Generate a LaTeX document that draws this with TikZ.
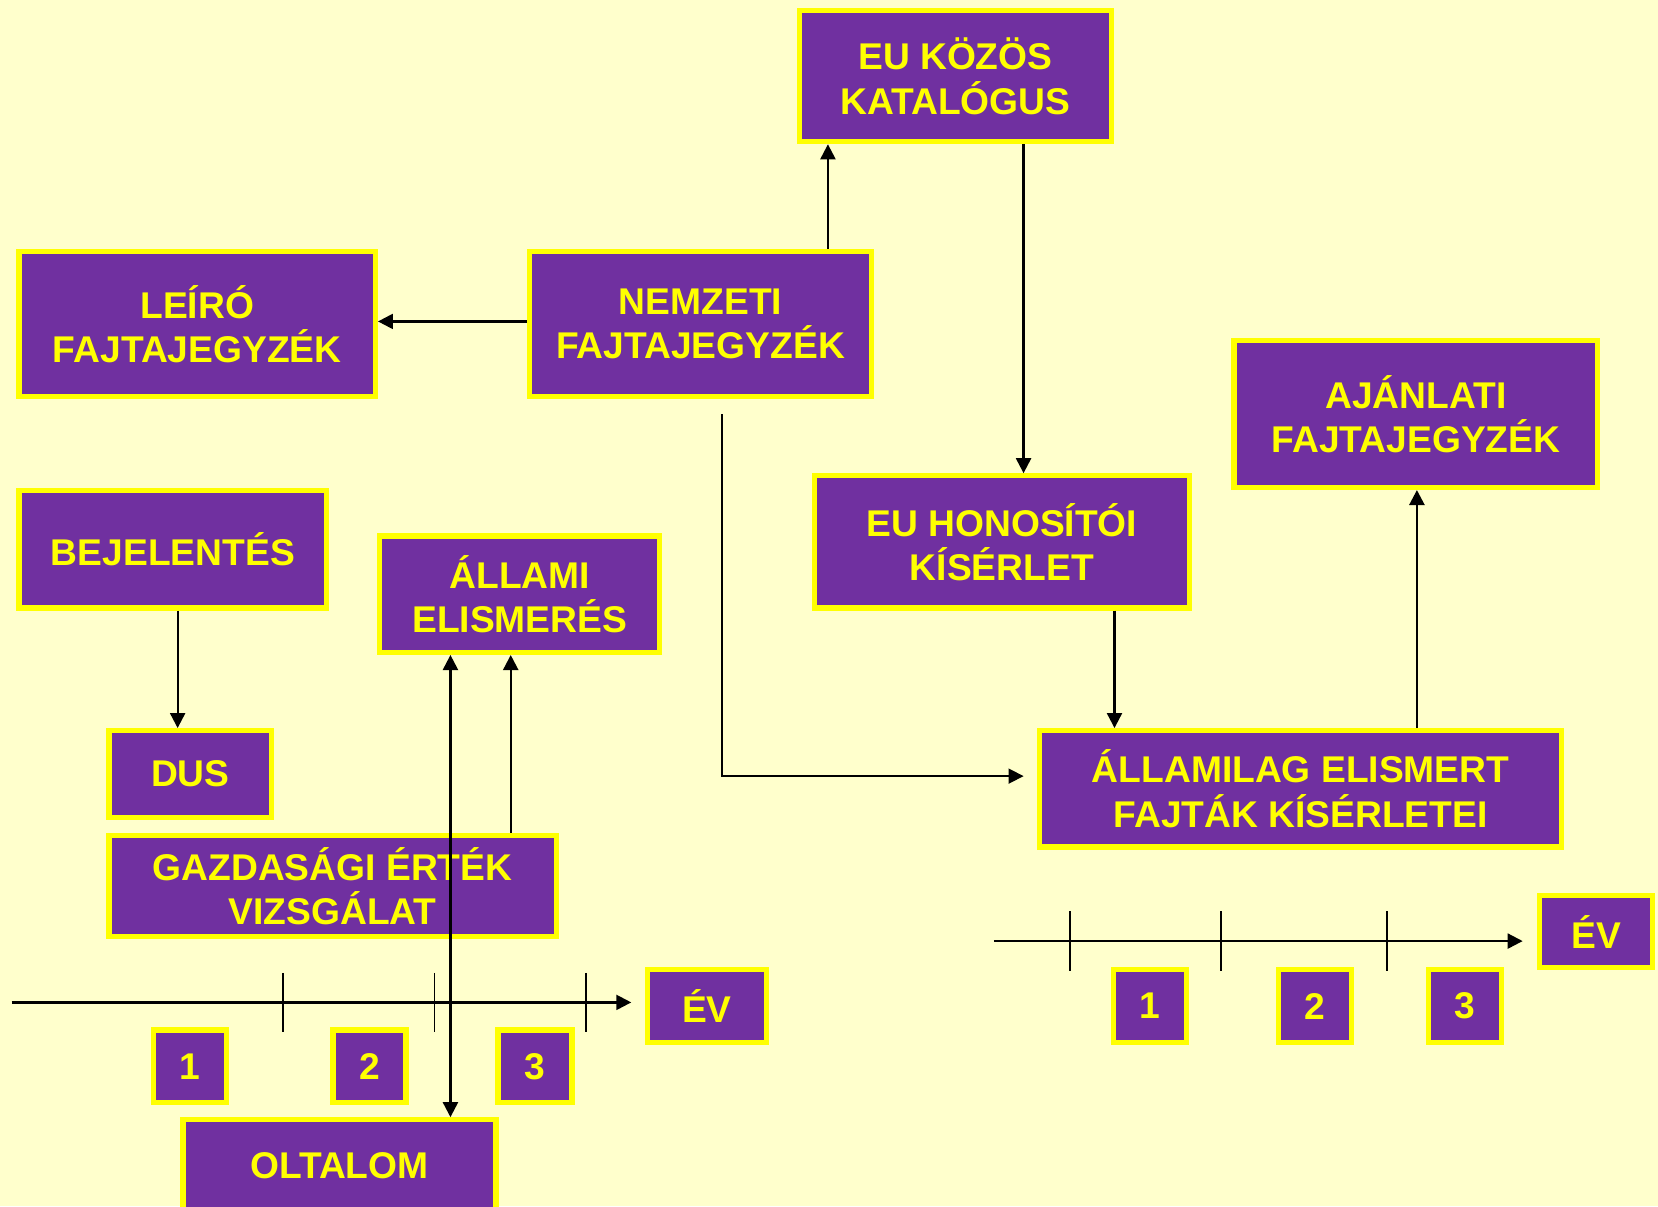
\documentclass[tikz,border=0pt]{standalone}
\usepackage{fontspec}
\setmainfont{Liberation Sans}
\usetikzlibrary{arrows.meta}
\definecolor{bgc}{HTML}{FFFFCC}
\definecolor{boxp}{HTML}{7030A0}
\definecolor{boxy}{HTML}{FFFF00}
\begin{document}
\begin{tikzpicture}[x=0.5287pt,y=-0.5287pt,
  pbox/.style 2 args={draw=boxy, fill=boxp, line width=2.6pt, inner sep=0pt,
    text=boxy, font=\fontsize{18.6}{22.2}\selectfont\bfseries, align=center,
    minimum width={(#1-4)*0.5287pt}, minimum height={(#2-4)*0.5287pt}},
  arr/.style={line width=1.1pt, -{Triangle[length=7.5pt,width=7.5pt]}},
  darr/.style={line width=1.1pt, {Triangle[length=7.5pt,width=7.5pt]}-{Triangle[length=7.5pt,width=7.5pt]}},
  thinarr/.style={line width=0.85pt, -{Triangle[length=7.5pt,width=7.5pt]}},
  tick/.style={line width=0.9pt}]
\fill[bgc] (0,0) rectangle (1568,1141);
\useasboundingbox (0,0) rectangle (1568,1141);

% boxes
\node[pbox={299}{128}] (euk) at (903.5,72) {EU KÖZÖS\\KATALÓGUS};
\node[pbox={341}{141}] (leiro) at (186.5,306.5) {LEÍRÓ\\FAJTAJEGYZÉK};
\node[pbox={327}{141}] (nemz) at (662.5,306.5) {NEMZETI\\FAJTAJEGYZÉK};
\node[pbox={348}{143}] (ajan) at (1339,391.5) {AJÁNLATI\\FAJTAJEGYZÉK};
\node[pbox={295}{115}] (bej) at (163.5,519.5) {BEJELENTÉS};
\node[pbox={269}{114}] (allami) at (491.5,562) {ÁLLAMI\\ELISMERÉS};
\node[pbox={359}{129}] (euh) at (947.5,512.5) {EU HONOSÍTÓI\\KÍSÉRLET};
\node[pbox={158}{86}] (dus) at (180,732) {DUS};
\node[pbox={427}{100}] (gazd) at (314.5,838) {GAZDASÁGI ÉRTÉK\\VIZSGÁLAT};
\node[pbox={498}{114}] (allamilag) at (1230,746) {ÁLLAMILAG ELISMERT\\FAJTÁK KÍSÉRLETEI};
\node[pbox={111}{72}] (evr) at (1509.5,881) {ÉV};
\node[pbox={117}{73}] (evl) at (668.5,951.5) {ÉV};
\node[pbox={73}{73}] (l1) at (179.5,1008.5) {1};
\node[pbox={73}{73}] (l2) at (349.5,1008.5) {2};
\node[pbox={74}{73}] (l3) at (506,1008.5) {3};
\node[pbox={300}{90}] (olt) at (321,1102) {OLTALOM};
\node[pbox={73}{73}] (r1) at (1087.5,951.5) {1};
\node[pbox={73}{73}] (r2) at (1243.5,951.5) {2};
\node[pbox={73}{73}] (r3) at (1385.5,951.5) {3};

% helper coordinates
\coordinate (xa) at (783,0);
\coordinate (xb) at (968,0);
\coordinate (ya) at (0,304);
\coordinate (xc) at (1054,0);
\coordinate (xd) at (1340,0);
\coordinate (xe) at (168,0);
\coordinate (xf) at (483,0);
\coordinate (xg) at (426,0);
\coordinate (nstart) at (683,392);
\coordinate (nend) at (968,734);

% connectors
\draw[arr] (xa |- nemz.north) -- (xa |- euk.south);
\draw[arr] (xb |- euk.south) -- (xb |- euh.north);
\draw[arr] (nemz.west |- ya) -- (leiro.east |- ya);
\draw[thinarr] (nstart) |- (nend);
\draw[arr] (xc |- euh.south) -- (xc |- allamilag.north);
\draw[arr, line width=1.3pt] (xd |- allamilag.north) -- (xd |- ajan.south);
\draw[arr] (xe |- bej.south) -- (xe |- dus.north);
\draw[arr] (xf |- gazd.north) -- (xf |- allami.south);
\draw[darr] (xg |- allami.south) -- (xg |- olt.north);

% left time axis
\coordinate (la) at (11,948);
\coordinate (lb) at (597,948);
\draw[arr] (la) -- (lb);
\foreach \t in {268,411,554} \draw[tick] (\t,920) -- (\t,976);

% right time axis
\coordinate (ra) at (940,890);
\coordinate (rb) at (1440,890);
\draw[arr] (ra) -- (rb);
\foreach \t in {1012,1155,1312} \draw[tick] (\t,862) -- (\t,918);
\end{tikzpicture}
\end{document}
